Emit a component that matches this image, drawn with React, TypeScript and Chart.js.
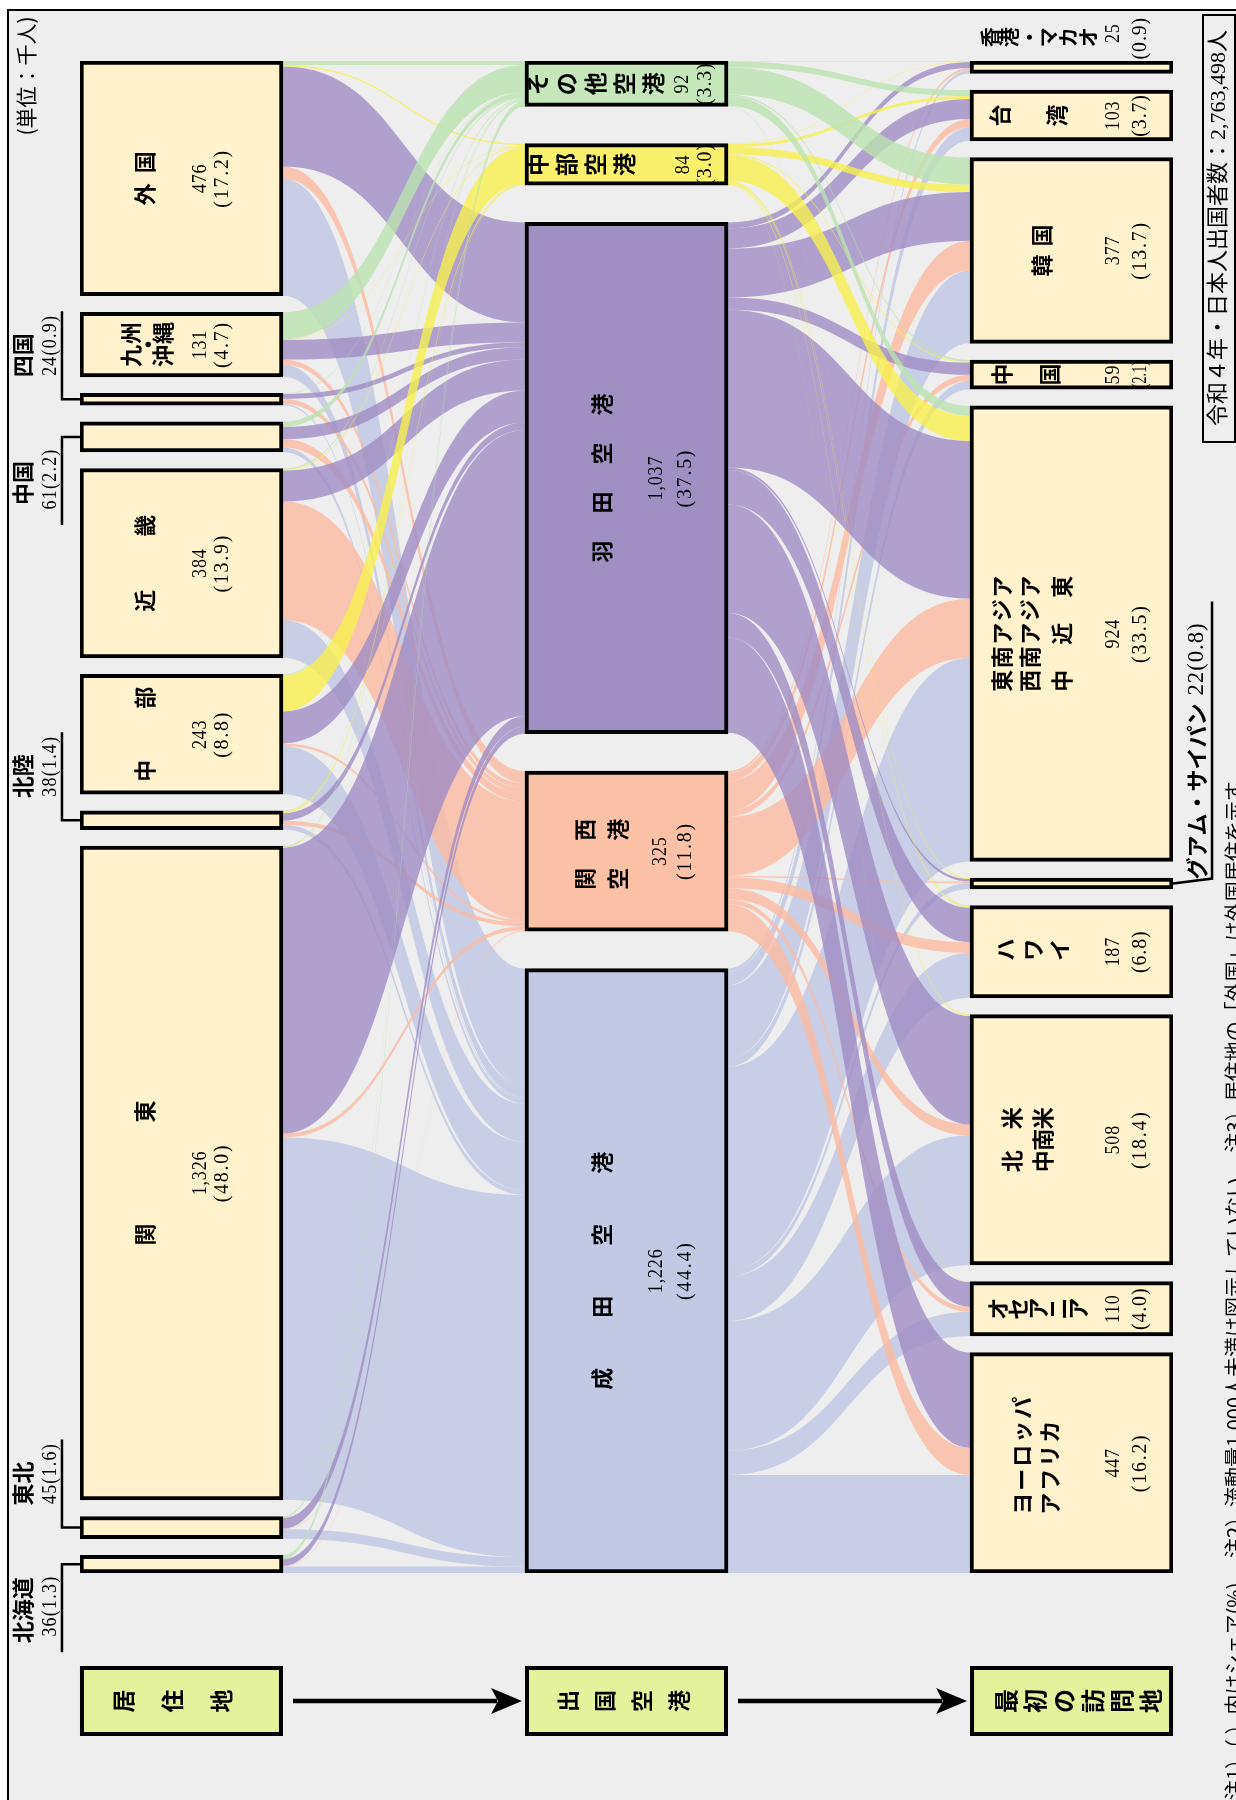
import React, { useEffect, useRef } from 'react';
import { Chart, registerables } from 'chart.js';

Chart.register(...registerables);

// ---------------- DATA ----------------
const RESIDENCES = ['外国', '九州・沖縄', '四国', '中国', '近畿', '中部', '北陸', '関東', '東北', '北海道'];
const RESIDENCE_VALUES = [476, 131, 24, 61, 384, 243, 38, 1326, 45, 36];
const RESIDENCE_SHARES = ['17.2', '4.7', '0.9', '2.2', '13.9', '8.8', '1.4', '48.0', '1.6', '1.3'];

const AIRPORTS = ['その他空港', '中部空港', '羽田空港', '関西空港', '成田空港'];
const AIRPORT_VALUES = [92, 84, 1037, 325, 1226];
const AIRPORT_SHARES = ['3.3', '3.0', '37.5', '11.8', '44.4'];

const DESTINATIONS = ['香港・マカオ', '台湾', '韓国', '中国', '東南アジア・西南アジア・中近東', 'グアム・サイパン', 'ハワイ', '北米・中南米', 'オセアニア', 'ヨーロッパ・アフリカ'];
const DESTINATION_VALUES = [25, 103, 377, 59, 924, 22, 187, 508, 110, 447];
const DESTINATION_SHARES = ['0.9', '3.7', '13.7', '2.1', '33.5', '0.8', '6.8', '18.4', '4.0', '16.2'];

// residence (rows) -> departure airport (cols: その他, 中部, 羽田, 関西, 成田)
const FLOWS_RESIDENCE_AIRPORT = [
  [8, 3, 203, 25, 237],
  [55, 1, 40, 10, 25],
  [1, 0, 10, 10, 3],
  [10, 0, 25, 17, 9],
  [2, 2, 63, 240, 77],
  [2, 73, 65, 5, 98],
  [1, 4, 15, 8, 10],
  [2, 1, 580, 8, 735],
  [3, 0, 22, 1, 19],
  [8, 0, 14, 1, 13],
];

// departure airport (rows) -> first destination (cols in DESTINATIONS order)
const FLOWS_AIRPORT_DESTINATION = [
  [1, 12, 55, 3, 20, 0, 1, 0, 0, 0],
  [1, 6, 15, 2, 51, 2, 3, 3, 1, 0],
  [12, 41, 99, 25, 320, 5, 70, 220, 50, 193],
  [5, 16, 60, 12, 120, 3, 22, 22, 10, 55],
  [6, 28, 148, 17, 413, 12, 91, 263, 49, 199],
];

const HEADERS = ['居住地', '出国空港', '最初の訪問地'];
const UNIT_TEXT = '(単位：千人)';
const TOTAL_TEXT = '令和４年・日本人出国者数：2,763,498人';
const NOTE_TEXT = '注1）（ ）内はシェア(%)、 注2）流動量1,000人未満は図示していない、 注3）居住地の「外国」は外国居住を示す。';

// ---------------- STYLE / LAYOUT ----------------
const W = 1236;
const H = 1800;
const Y_MAX = 3067;
const SANS = '"Noto Sans CJK JP", "Noto Sans", sans-serif';
const SERIF = '"Liberation Serif", "Noto Sans CJK JP", serif';
const PLACE_FILL = '#fff2cc';
const AIRPORT_FILLS = ['#c5e7b9', '#f9f16b', '#9f8fc3', '#fbc1a6', '#c1c9e5'];
const FLOW_COLORS = [
  'rgba(186,228,176,0.8)',
  'rgba(247,240,78,0.8)',
  'rgba(160,140,196,0.8)',
  'rgba(253,186,160,0.8)',
  'rgba(190,198,228,0.8)',
];
const FLOW_ORDER = [4, 3, 2, 1, 0];
const HEADER_FILL = '#e4f29c';

function columnLayout(values: number[]) {
  const sum = values.reduce((a, b) => a + b, 0);
  const gap = (Y_MAX - sum) / (values.length - 1);
  let y = 0;
  return values.map((v) => {
    const s = y;
    y += v + gap;
    return [s, s + v];
  });
}

const COLS = [RESIDENCE_VALUES, AIRPORT_VALUES, DESTINATION_VALUES];
const LAYOUTS = COLS.map(columnLayout);
const OFFSETS = [0, RESIDENCE_VALUES.length, RESIDENCE_VALUES.length + AIRPORT_VALUES.length];

type Line = { t: string; dx: number; pitch: number; dy?: number };
type Spec =
  | { kind: 'stack'; lines: Line[]; vdx: number; pdx: number }
  | { kind: 'row'; t: string; x0: number; pitch: number; dy?: number; vdx: number; pdx: number; vdy?: number; pdy?: number; font?: number; fit?: boolean }
  | { kind: 'outL'; dir: number }
  | { kind: 'outR' };

const LEFT_SPECS: Spec[] = [
  { kind: 'stack', lines: [{ t: '外国', dx: 65, pitch: 32 }], vdx: 120, pdx: 142 },
  { kind: 'stack', lines: [{ t: '九州', dx: 51, pitch: 23 }, { t: '・', dx: 68, pitch: 0 }, { t: '沖縄', dx: 83, pitch: 23 }], vdx: 120, pdx: 142 },
  { kind: 'outL', dir: -1 },
  { kind: 'outL', dir: 1 },
  { kind: 'stack', lines: [{ t: '近畿', dx: 65, pitch: 75 }], vdx: 120, pdx: 142 },
  { kind: 'stack', lines: [{ t: '中部', dx: 65, pitch: 73 }], vdx: 120, pdx: 142 },
  { kind: 'outL', dir: -1 },
  { kind: 'stack', lines: [{ t: '関東', dx: 65, pitch: 123 }], vdx: 120, pdx: 142 },
  { kind: 'outL', dir: -1 },
  { kind: 'outL', dir: 1 },
];
const MID_SPECS: Spec[] = [
  { kind: 'row', t: 'その他空港', x0: 12, pitch: 29, vdx: 157, pdx: 180, font: 23 },
  { kind: 'row', t: '中部空港', x0: 12, pitch: 29, vdx: 158, pdx: 180, font: 23 },
  { kind: 'stack', lines: [{ t: '羽田空港', dx: 77, pitch: 49 }], vdx: 131, pdx: 160 },
  { kind: 'stack', lines: [{ t: '関西', dx: 60, pitch: 49, dy: 3 }, { t: '空港', dx: 93, pitch: 49, dy: 3 }], vdx: 135, pdx: 160 },
  { kind: 'stack', lines: [{ t: '成田空港', dx: 77, pitch: 72 }], vdx: 131, pdx: 160 },
];
const RIGHT_SPECS: Spec[] = [
  { kind: 'row', t: '香港・マカオ', x0: 20, pitch: 19.6, dy: -30, vdx: 143, pdx: 170, vdy: -34, pdy: -29, font: 20 },
  { kind: 'row', t: '台湾', x0: 30, pitch: 57, vdx: 143, pdx: 170 },
  { kind: 'stack', lines: [{ t: '韓国', dx: 72, pitch: 30 }], vdx: 143, pdx: 170 },
  { kind: 'row', t: '中国', x0: 32, pitch: 48, vdx: 143, pdx: 170, fit: true },
  { kind: 'stack', lines: [{ t: '東南アジア', dx: 32, pitch: 23.5 }, { t: '西南アジア', dx: 60, pitch: 23.5 }, { t: '中近東', dx: 92, pitch: 47 }], vdx: 143, pdx: 170 },
  { kind: 'outR' },
  { kind: 'row', t: 'ハワイ', x0: 35, pitch: 27.5, dy: -2, vdx: 143, pdx: 170 },
  { kind: 'stack', lines: [{ t: '北米', dx: 42, pitch: 43 }, { t: '中南米', dx: 73, pitch: 21.5 }], vdx: 143, pdx: 170 },
  { kind: 'row', t: 'オセアニア', x0: 28, pitch: 20, vdx: 143, pdx: 170 },
  { kind: 'stack', lines: [{ t: 'ヨーロッパ', dx: 52, pitch: 24, dy: -7 }, { t: 'アフリカ', dx: 80, pitch: 24, dy: 5 }], vdx: 143, pdx: 170 },
];
const SPECS = [LEFT_SPECS, MID_SPECS, RIGHT_SPECS];
const VALUE_SETS = [RESIDENCE_VALUES, AIRPORT_VALUES, DESTINATION_VALUES];
const SHARE_SETS = [RESIDENCE_SHARES, AIRPORT_SHARES, DESTINATION_SHARES];
const NAME_SETS = [RESIDENCES, AIRPORTS, DESTINATIONS];

const fmt = (v: number) => v.toLocaleString('en-US');

// ---------------- DRAW HELPERS ----------------
function rt(ctx: CanvasRenderingContext2D, text: string, x: number, y: number, font: string, align: CanvasTextAlign = 'center', sx = 1, maxW?: number, spacing = 0) {
  ctx.save();
  ctx.translate(x, y);
  ctx.rotate(-Math.PI / 2);
  ctx.scale(sx, 1);
  ctx.font = font;
  ctx.textAlign = align;
  ctx.textBaseline = 'middle';
  ctx.fillStyle = '#000';
  (ctx as any).letterSpacing = `${spacing}px`;
  if (maxW) ctx.fillText(text, 0, 0, maxW / sx);
  else ctx.fillText(text, 0, 0);
  (ctx as any).letterSpacing = '0px';
  ctx.restore();
}
function stackChars(ctx: CanvasRenderingContext2D, text: string, x: number, cy: number, pitch: number, font: string) {
  const chars = Array.from(text);
  const n = chars.length;
  chars.forEach((c, k) => rt(ctx, c, x, cy + ((n - 1) / 2 - k) * pitch, font));
}
function rowChars(ctx: CanvasRenderingContext2D, text: string, x0: number, y: number, pitch: number, font: string) {
  Array.from(text).forEach((c, k) => rt(ctx, c, x0 + k * pitch, y, font));
}
function band(ctx: CanvasRenderingContext2D, x0: number, a0: number, a1: number, x1: number, b0: number, b1: number, color: string) {
  const xm = (x0 + x1) / 2;
  ctx.beginPath();
  ctx.moveTo(x0, a0);
  ctx.bezierCurveTo(xm, a0, xm, b0, x1, b0);
  ctx.lineTo(x1, b1);
  ctx.bezierCurveTo(xm, b1, xm, a1, x0, a1);
  ctx.closePath();
  ctx.fillStyle = color;
  ctx.fill();
}
function boxed(ctx: CanvasRenderingContext2D, x: number, y: number, w: number, h: number, fill: string, bw = 4) {
  ctx.fillStyle = '#000';
  ctx.fillRect(x, y, w, h);
  ctx.fillStyle = fill;
  ctx.fillRect(x + bw, y + bw, w - 2 * bw, h - 2 * bw);
}

const sankeyPlugin = {
  id: 'sankeyDraw',
  beforeDraw(chart: any) {
    const ctx: CanvasRenderingContext2D = chart.ctx;
    ctx.save();
    ctx.fillStyle = '#ffffff';
    ctx.fillRect(0, 0, W, H);
    ctx.fillStyle = '#eeeeee';
    ctx.fillRect(8, 10, W - 8, H - 10);
    ctx.strokeStyle = '#000';
    ctx.lineWidth = 2;
    ctx.beginPath();
    ctx.moveTo(8, H);
    ctx.lineTo(8, 10);
    ctx.lineTo(W, 10);
    ctx.stroke();
    ctx.restore();
  },
  beforeDatasetsDraw(chart: any) {
    const ctx: CanvasRenderingContext2D = chart.ctx;
    const meta = chart.getDatasetMeta(0);
    const ys = chart.scales.y;
    const edge = (col: number, i: number) => {
      const el = meta.data[OFFSETS[col] + i];
      return { left: el.x - el.width / 2, right: el.x + el.width / 2 };
    };
    const stages = [
      { from: 0, to: 1, flows: FLOWS_RESIDENCE_AIRPORT, colorOf: (s: number, t: number) => t },
      { from: 1, to: 2, flows: FLOWS_AIRPORT_DESTINATION, colorOf: (s: number, t: number) => s },
    ];
    ctx.save();
    for (const st of stages) {
      const F = st.flows;
      const nS = F.length;
      const nT = F[0].length;
      const links: any[] = [];
      const srcAcc = LAYOUTS[st.from].map((r) => r[0]);
      for (let s = 0; s < nS; s++) {
        for (let t = 0; t < nT; t++) {
          const v = F[s][t];
          if (v > 0) {
            links.push({ s, t, v, a0: srcAcc[s], a1: srcAcc[s] + v });
            srcAcc[s] += v;
          }
        }
      }
      const tgtAcc = LAYOUTS[st.to].map((r) => r[0]);
      for (let t = 0; t < nT; t++) {
        for (let s = 0; s < nS; s++) {
          const l = links.find((k) => k.s === s && k.t === t);
          if (l) {
            l.b0 = tgtAcc[t];
            l.b1 = tgtAcc[t] + l.v;
            tgtAcc[t] += l.v;
          }
        }
      }
      for (const c of FLOW_ORDER) {
        for (const l of links) {
          if (st.colorOf(l.s, l.t) !== c) continue;
          const x0 = edge(st.from, l.s).right;
          const x1 = edge(st.to, l.t).left;
          band(ctx, x0, ys.getPixelForValue(l.a0), ys.getPixelForValue(l.a1), x1, ys.getPixelForValue(l.b0), ys.getPixelForValue(l.b1), FLOW_COLORS[c]);
        }
      }
    }
    ctx.restore();
  },
  afterDatasetsDraw(chart: any) {
    const ctx: CanvasRenderingContext2D = chart.ctx;
    const meta = chart.getDatasetMeta(0);
    const ys = chart.scales.y;
    ctx.save();
    const nameFont = (s = 22) => `bold ${s}px ${SANS}`;
    const valFont = `22px ${SERIF}`;
    for (let col = 0; col < 3; col++) {
      const specs = SPECS[col];
      specs.forEach((sp, i) => {
        const el = meta.data[OFFSETS[col] + i];
        const L = el.x - el.width / 2;
        const R = el.x + el.width / 2;
        const [s, e] = LAYOUTS[col][i];
        const top = ys.getPixelForValue(s);
        const bot = ys.getPixelForValue(e);
        const cy = (top + bot) / 2;
        const value = fmt(VALUE_SETS[col][i]);
        const share = `(${SHARE_SETS[col][i]})`;
        if (sp.kind === 'stack') {
          for (const ln of sp.lines) {
            stackChars(ctx, ln.t, L + ln.dx, cy + (ln.dy || 0), ln.pitch, nameFont());
          }
          rt(ctx, value, L + sp.vdx, cy, valFont, 'center', 0.82, undefined, 1);
          rt(ctx, share, L + sp.pdx, cy, valFont, 'center', 0.9, undefined, 2);
        } else if (sp.kind === 'row') {
          rowChars(ctx, sp.t, L + sp.x0, cy + (sp.dy || 0), sp.pitch, nameFont(sp.font || 22));
          const maxW = sp.fit ? bot - top - 2 : undefined;
          rt(ctx, value, L + sp.vdx, cy + (sp.vdy || 0), valFont, 'center', 0.82, maxW, 1);
          rt(ctx, share, L + sp.pdx, cy + (sp.pdy || 0), valFont, 'center', 0.9, maxW, sp.fit ? 0 : 1);
        } else if (sp.kind === 'outL') {
          const d = sp.dir;
          ctx.strokeStyle = '#000';
          ctx.lineWidth = 2.5;
          ctx.beginPath();
          ctx.moveTo(L, cy);
          ctx.lineTo(L - 18, cy);
          ctx.lineTo(L - 18, cy + d * 88);
          ctx.stroke();
          rt(ctx, NAME_SETS[col][i], L - 57, cy + (d > 0 ? 46 : -44), nameFont(22));
          rt(ctx, `${value}${share}`, L - 29, cy + (d > 0 ? 42 : -54), `21px ${SERIF}`, 'center', 0.85, undefined, 1.5);
        } else if (sp.kind === 'outR') {
          ctx.strokeStyle = '#000';
          ctx.lineWidth = 2.5;
          ctx.beginPath();
          ctx.moveTo(R, cy);
          ctx.lineTo(R + 39, cy - 5);
          ctx.lineTo(R + 39, cy - 282);
          ctx.stroke();
          const nm = NAME_SETS[col][i];
          ctx.font = nameFont(22);
          const w = ctx.measureText(nm).width;
          rt(ctx, nm, R + 24, cy - 4, nameFont(22), 'left');
          rt(ctx, `${value}${share}`, R + 24, cy - 12 - w, `24px ${SERIF}`, 'left', 0.95, undefined, 1);
        }
      });
    }

    // headers and arrows
    const hTop = 1666;
    const hH = 70;
    const pitches = [49, 37, 29];
    const fonts = [23, 22, 24];
    const shifts = [-9, -3, 7];
    const boxes: { l: number; r: number }[] = [];
    for (let col = 0; col < 3; col++) {
      const el = meta.data[OFFSETS[col]];
      const l = el.x - el.width / 2;
      const r = el.x + el.width / 2;
      boxes.push({ l, r });
      boxed(ctx, l, hTop, r - l, hH, HEADER_FILL);
      const chars = Array.from(HEADERS[col]);
      const n = chars.length;
      const cx = (l + r) / 2 + shifts[col];
      chars.forEach((c, k) => rt(ctx, c, cx + (k - (n - 1) / 2) * pitches[col], hTop + hH / 2, nameFont(fonts[col])));
    }
    const ay = hTop + hH / 2;
    for (let k = 0; k < 2; k++) {
      const x0 = boxes[k].r + 10;
      const x1 = boxes[k + 1].l - 3;
      ctx.strokeStyle = '#000';
      ctx.lineWidth = 4.5;
      ctx.beginPath();
      ctx.moveTo(x0, ay);
      ctx.lineTo(x1 - 25, ay);
      ctx.stroke();
      ctx.fillStyle = '#000';
      ctx.beginPath();
      ctx.moveTo(x1, ay);
      ctx.lineTo(x1 - 31, ay - 13);
      ctx.lineTo(x1 - 24, ay);
      ctx.lineTo(x1 - 31, ay + 13);
      ctx.closePath();
      ctx.fill();
    }

    // unit text
    rt(ctx, UNIT_TEXT, 26, 76, `21px ${SANS}`);
    // total box
    ctx.strokeStyle = '#000';
    ctx.lineWidth = 2;
    ctx.fillStyle = '#eeeeee';
    ctx.fillRect(1203, 15, 33, 427);
    ctx.strokeRect(1203, 15, 32, 427);
    rt(ctx, TOTAL_TEXT, 1219, 228, `22px ${SERIF}`, 'center', 1, 410);
    // notes
    rt(ctx, NOTE_TEXT, 1234, 1800, `20px ${SANS}`, 'left');
    ctx.restore();
  },
};

export default function App() {
  const ref = useRef<HTMLCanvasElement | null>(null);
  useEffect(() => {
    if (!ref.current) return;
    const nodes: { x: number; y: number[] }[] = [];
    const fills: string[] = [];
    LAYOUTS.forEach((lay, col) => {
      lay.forEach((r, i) => {
        nodes.push({ x: col, y: [r[0], r[1]] });
        fills.push(col === 1 ? AIRPORT_FILLS[i] : PLACE_FILL);
      });
    });
    const chart = new Chart(ref.current, {
      type: 'bar',
      data: {
        datasets: [
          {
            data: nodes as any,
            backgroundColor: fills,
            borderColor: '#000',
            borderWidth: 4,
            borderSkipped: false,
            barThickness: 203,
            grouped: false,
          } as any,
        ],
      },
      options: {
        animation: false,
        responsive: false,
        events: [],
        layout: { padding: { left: 80, right: 63, top: 61, bottom: 227 } },
        scales: {
          x: { type: 'linear', min: -0.228, max: 2.228, offset: false, display: false },
          y: { type: 'linear', min: 0, max: Y_MAX, reverse: true, display: false },
        },
        plugins: { legend: { display: false }, tooltip: { enabled: false } },
      } as any,
      plugins: [sankeyPlugin as any],
    });
    return () => chart.destroy();
  }, []);
  return (
    <div style={{ position: 'absolute', left: 0, top: 0, width: W, height: H }}>
      <canvas ref={ref} width={W} height={H} style={{ display: 'block' }} />
    </div>
  );
}
